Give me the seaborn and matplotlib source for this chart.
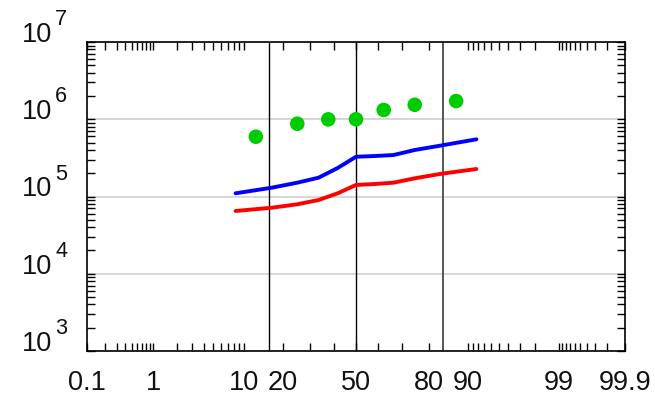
import numpy as np
import pandas as pd
import matplotlib
matplotlib.use("Agg")
import matplotlib.pyplot as plt
import matplotlib.ticker as mticker
import seaborn as sns
from statistics import NormalDist

# ---------------- data ----------------
line_prob = [8.33, 16.67, 25.0, 33.33, 41.67, 50.0, 58.33, 66.67, 75.0, 83.33, 91.67]
blue_vals = [1.10e5, 1.30e5, 1.51e5, 1.75e5, 2.34e5, 3.27e5, 3.34e5, 3.44e5, 4.0e5, 4.55e5, 5.5e5]
red_vals = [6.49e4, 7.16e4, 7.93e4, 9.0e4, 1.10e5, 1.41e5, 1.45e5, 1.51e5, 1.72e5, 1.96e5, 2.27e5]
dot_prob = [12.5, 25.0, 37.5, 50.0, 62.5, 75.0, 87.5]
green_vals = [5.94e5, 8.75e5, 9.97e5, 1.0e6, 1.32e6, 1.54e6, 1.72e6]
ref_lines = [15.87, 50.0, 84.13]
x_major = [0.1, 1, 10, 20, 50, 80, 90, 99, 99.9]
x_major_labels = ["0.1", "1", "10", "20", "50", "80", "90", "99", "99.9"]
x_minor = ([0.2, 0.3, 0.4, 0.5, 0.6, 0.7, 0.8, 0.9]
           + [2, 3, 4, 5, 6, 7, 8, 9]
           + [30, 40, 60, 70]
           + [91, 92, 93, 94, 95, 96, 97, 98]
           + [99.1, 99.2, 99.3, 99.4, 99.5, 99.6, 99.7, 99.8])
y_exponents = [3, 4, 5, 6, 7]

lines_df = pd.DataFrame({
    "p": line_prob * 2,
    "v": blue_vals + red_vals,
    "series": ["blue"] * len(line_prob) + ["red"] * len(line_prob),
})
dots_df = pd.DataFrame({"p": dot_prob, "v": green_vals})

# ---------------- style ----------------
sns.set_theme(style="ticks")
plt.rcParams["font.family"] = ["Liberation Sans", "DejaVu Sans"]
plt.rcParams["ytick.alignment"] = "baseline"

FS = 19.5

_nd = NormalDist()
_ppf = np.vectorize(_nd.inv_cdf, otypes=[float])
_cdf = np.vectorize(_nd.cdf, otypes=[float])


def fwd(p):
    p = np.clip(np.asarray(p, dtype=float) / 100.0, 1e-12, 1 - 1e-12)
    return _ppf(p)


def inv(z):
    z = np.asarray(z, dtype=float)
    return 100.0 * _cdf(z)


fig = plt.figure(figsize=(6.55, 4.01), dpi=100)
ax = fig.add_axes([87 / 655, 1 - 351 / 401, (625 - 87) / 655, (351 - 42) / 401])

sns.lineplot(data=lines_df, x="p", y="v", hue="series",
             palette={"blue": "#0000ff", "red": "#ff0000"},
             linewidth=2.8, legend=False, ax=ax, sort=False)
sns.scatterplot(data=dots_df, x="p", y="v", color="#00cc00", s=110,
                edgecolor="none", legend=False, ax=ax, zorder=4)

ax.set_xscale("function", functions=(fwd, inv))
ax.set_yscale("log")
ax.set_xlim(0.1, 99.9)
ax.set_ylim(10.0 ** y_exponents[0], 10.0 ** y_exponents[-1])

for xv, col, lw in zip(ref_lines, ["black", "black", "#555555"], [1.0, 1.0, 1.4]):
    ax.axvline(xv, color=col, lw=lw, zorder=1)

ax.grid(axis="y", which="major", color="#d3d3d3", lw=1.3, zorder=0)
ax.grid(axis="x", visible=False)
ax.set_axisbelow(True)

ax.set_xticks(x_major)
ax.set_xticklabels(x_major_labels)
ax.set_xticks(x_minor, minor=True)
ax.xaxis.set_minor_formatter(mticker.NullFormatter())

ax.yaxis.set_major_locator(mticker.FixedLocator([10.0 ** e for e in y_exponents]))
ax.yaxis.set_minor_locator(mticker.LogLocator(base=10, subs=np.arange(2, 10), numticks=20))
ax.yaxis.set_major_formatter(mticker.FixedFormatter(["10"] * len(y_exponents)))
ax.yaxis.set_minor_formatter(mticker.NullFormatter())

ax.tick_params(axis="both", which="both", direction="in", top=True, right=True,
               length=6, width=1.0, color="black", labelsize=FS, labelcolor="#111111")
ax.tick_params(axis="x", which="both", pad=14)
ax.tick_params(axis="y", which="both", pad=25)

# exponents of the y tick labels (10^e)
ytrans = ax.get_yaxis_transform()
for e in y_exponents:
    ax.annotate(str(e), xy=(0, 10.0 ** e), xycoords=ytrans,
                xytext=(-32, 17), textcoords="offset pixels",
                ha="left", va="baseline", fontsize=FS * 0.8,
                color="#111111", annotation_clip=False)

for s in ax.spines.values():
    s.set_visible(True)
    s.set_color("black")
    s.set_linewidth(1.2)

ax.set_xlabel("")
ax.set_ylabel("")
fig.savefig("out.png", dpi=100, facecolor="white")
